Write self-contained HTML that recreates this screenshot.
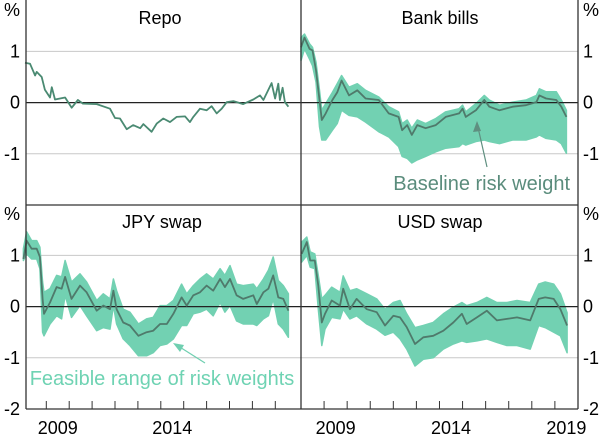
<!DOCTYPE html>
<html><head><meta charset="utf-8"><style>
body{margin:0;background:#fff}
svg text{font-family:"Liberation Sans",sans-serif;fill:#000}
</style></head><body>
<svg id="c" width="600" height="438" xmlns="http://www.w3.org/2000/svg"></svg>
<script>
const yearTicks=[2009,2010,2011,2012,2013,2014,2015,2016,2017,2018,2019];
const yearLabelsLeft=[2009,2014];
const yearLabelsRight=[2009,2014,2019];
const yTickValues=[1,0,-1,-2];
const yTickLabels=["1","0","-1","-2"];

const repoT=[2008.07,2008.29,2008.51,2008.58,2008.8,2008.94,2009.16,2009.24,2009.38,2009.82,2010.11,2010.38,2010.6,2011.2,2011.78,2012.0,2012.22,2012.51,2012.79,2013.1,2013.24,2013.6,2013.82,2014.11,2014.4,2014.69,2015.06,2015.27,2015.42,2015.71,2016.0,2016.22,2016.44,2016.66,2016.88,2017.17,2017.6,2018.04,2018.33,2018.48,2018.84,2018.99,2019.13,2019.2,2019.32,2019.42,2019.57];
const repoV=[0.78,0.76,0.53,0.6,0.5,0.25,0.1,0.3,0.06,0.1,-0.1,0.05,-0.02,-0.03,-0.12,-0.3,-0.31,-0.52,-0.44,-0.5,-0.42,-0.57,-0.41,-0.31,-0.38,-0.28,-0.27,-0.38,-0.28,-0.12,-0.15,-0.07,-0.21,-0.12,0.01,0.03,-0.03,0.06,0.14,0.05,0.38,0.08,0.37,0.05,0.29,0.01,-0.08];

const bankT=[2008.0,2008.15,2008.37,2008.5,2008.65,2008.8,2008.9,2009.07,2009.36,2009.57,2009.76,2010.08,2010.44,2010.8,2011.37,2011.8,2012.23,2012.38,2012.6,2012.8,2013.04,2013.4,2013.84,2014.27,2014.85,2015.0,2015.14,2015.58,2015.94,2016.16,2016.6,2017.17,2017.75,2018.2,2018.33,2018.62,2019.06,2019.28,2019.5];
const bankLine=[1.08,1.27,1.05,1.02,0.63,0.05,-0.34,-0.21,0.05,0.2,0.43,0.14,0.24,0.08,0.05,-0.21,-0.28,-0.54,-0.44,-0.63,-0.44,-0.5,-0.44,-0.28,-0.21,-0.12,-0.28,-0.15,0.05,-0.08,-0.15,-0.08,-0.05,0.01,0.14,0.08,0.05,-0.08,-0.28];
const bankUpper=[1.27,1.34,1.15,1.08,0.79,0.24,-0.15,-0.02,0.2,0.37,0.53,0.3,0.37,0.24,0.11,-0.08,-0.18,-0.41,-0.34,-0.5,-0.34,-0.41,-0.31,-0.18,-0.12,-0.05,-0.18,-0.02,0.14,0.05,-0.05,0.01,0.05,0.14,0.27,0.21,0.21,0.05,-0.15];
const bankLower=[0.82,1.05,0.85,0.72,0.4,-0.47,-0.73,-0.73,-0.54,-0.41,-0.15,-0.25,-0.28,-0.38,-0.57,-0.67,-0.86,-1.05,-1.09,-1.18,-1.12,-1.05,-0.96,-0.89,-0.86,-0.8,-0.83,-0.76,-0.73,-0.76,-0.8,-0.73,-0.73,-0.67,-0.63,-0.7,-0.73,-0.8,-0.99];

const jpyT=[2008.0,2008.14,2008.36,2008.58,2008.72,2008.84,2008.9,2009.16,2009.45,2009.67,2009.82,2010.1,2010.47,2010.76,2011.2,2011.49,2011.78,2011.93,2012.07,2012.36,2012.65,2013.02,2013.38,2013.67,2013.97,2014.26,2014.55,2014.91,2015.13,2015.42,2015.71,2016.0,2016.29,2016.59,2016.8,2017.02,2017.31,2017.6,2018.04,2018.19,2018.48,2018.7,2018.91,2019.13,2019.35,2019.57];
const jpyLine=[0.93,1.29,1.13,1.13,0.97,0.15,-0.14,0.08,0.38,0.35,0.58,0.15,0.41,0.28,-0.08,0.02,-0.05,0.31,-0.05,-0.31,-0.37,-0.57,-0.5,-0.47,-0.34,-0.34,-0.14,0.18,0.02,0.22,0.28,0.41,0.31,0.54,0.38,0.54,0.22,0.15,0.22,0.05,0.28,0.35,0.61,0.18,0.15,-0.08];
const jpyUpper=[1.13,1.46,1.29,1.29,1.16,0.48,0.28,0.35,0.61,0.58,0.9,0.48,0.64,0.48,0.12,0.25,0.15,0.54,0.31,-0.05,-0.11,-0.34,-0.24,-0.21,0.02,0.02,0.12,0.44,0.25,0.41,0.54,0.64,0.54,0.74,0.61,0.8,0.44,0.41,0.44,0.35,0.54,0.71,0.97,0.51,0.41,0.25];
const jpyLower=[0.9,1.03,0.93,0.93,0.74,-0.5,-0.57,-0.34,-0.18,-0.24,0.22,-0.21,0.02,-0.18,-0.47,-0.41,-0.44,0.02,-0.34,-0.63,-0.76,-0.96,-0.96,-0.9,-0.76,-0.73,-0.63,-0.37,-0.37,-0.14,-0.11,-0.05,-0.18,0.08,-0.11,0.02,-0.28,-0.34,-0.34,-0.37,-0.24,-0.18,0.15,-0.34,-0.44,-0.6];

const usdT=[2008.03,2008.25,2008.4,2008.6,2008.75,2008.9,2009.04,2009.33,2009.69,2009.83,2010.12,2010.41,2010.85,2011.28,2011.64,2012.0,2012.29,2012.58,2012.94,2013.3,2013.73,2014.17,2014.6,2014.97,2015.18,2015.62,2016.05,2016.49,2016.92,2017.36,2017.93,2018.3,2018.58,2018.95,2019.24,2019.53];
const usdLine=[1.03,1.26,0.9,0.9,0.41,-0.31,-0.14,0.12,0.02,0.35,-0.05,0.15,-0.05,-0.11,-0.37,-0.18,-0.21,-0.4,-0.73,-0.6,-0.57,-0.47,-0.31,-0.14,-0.34,-0.21,-0.08,-0.27,-0.24,-0.21,-0.27,0.15,0.18,0.15,-0.05,-0.37];
const usdUpper=[1.26,1.36,1.07,1.03,0.61,0.15,0.22,0.38,0.28,0.6,0.31,0.35,0.25,0.15,-0.05,0.08,0.12,-0.14,-0.41,-0.37,-0.31,-0.14,-0.01,0.08,0.02,0.08,0.18,0.08,0.08,0.12,0.08,0.44,0.48,0.44,0.25,-0.12];
const usdLower=[0.87,1.0,0.77,0.74,-0.05,-0.76,-0.44,-0.21,-0.24,-0.05,-0.24,-0.18,-0.34,-0.44,-0.56,-0.5,-0.63,-0.83,-1.16,-1.03,-1.0,-0.83,-0.73,-0.67,-0.7,-0.67,-0.63,-0.7,-0.76,-0.76,-0.83,-0.37,-0.41,-0.5,-0.57,-0.9];

const NS="http://www.w3.org/2000/svg";
const svg=document.getElementById('c');
function mk(tag,attrs,parent){const e=document.createElementNS(NS,tag);for(const k in attrs)e.setAttribute(k,attrs[k]);(parent||svg).appendChild(e);return e;}

const panels=[
 {x0:23.4,pxPerYr:22.9,x1:301,top:0,title:"Repo",tx:160,line:repoV,t:repoT,lineColor:"#4a8a72",name:"repo"},
 {x0:301,pxPerYr:23.08,x1:578,top:0,title:"Bank bills",tx:440,line:bankLine,up:bankUpper,lo:bankLower,t:bankT,lineColor:"#4f7a6b",name:"bank-bills"},
 {x0:23.4,pxPerYr:22.9,x1:301,top:204,title:"JPY swap",tx:162,line:jpyLine,up:jpyUpper,lo:jpyLower,t:jpyT,lineColor:"#4f7a6b",name:"jpy-swap"},
 {x0:301,pxPerYr:23.08,x1:578,top:204,title:"USD swap",tx:440,line:usdLine,up:usdUpper,lo:usdLower,t:usdT,lineColor:"#4f7a6b",name:"usd-swap"}
];
const unit=51.2;
panels.forEach(p=>{
  const xs=t=>p.x0+(t-2008)*p.pxPerYr;
  const ys=v=>p.top+102.6-v*unit;
  const g=mk('g',{});
  
  
  [1,-1].forEach(v=>{const l=mk('line',{x1:p.x1===301?26:301,x2:p.x1,y1:ys(v),y2:ys(v),stroke:'#c8c8c8','stroke-width':1},g);
    });
  if(p.up){
    let d='M'+p.t.map((t,i)=>xs(t).toFixed(1)+','+ys(p.up[i]).toFixed(1)).join('L');
    for(let i=p.t.length-1;i>=0;i--)d+='L'+xs(p.t[i]).toFixed(1)+','+ys(p.lo[i]).toFixed(1);
    const a=mk('path',{d:d+'Z',fill:'#72d1b2',stroke:'#72d1b2','stroke-width':1.5,'stroke-linejoin':'round'},g);
    
    
  }
  const z=mk('line',{x1:p.x1===301?26:301,x2:p.x1,y1:ys(0),y2:ys(0),stroke:'#222','stroke-width':1.3},g);
  
  const ln=mk('polyline',{points:p.t.map((t,i)=>xs(t).toFixed(1)+','+ys(p.line[i]).toFixed(1)).join(' '),fill:'none',stroke:p.lineColor,'stroke-width':1.8,'stroke-linejoin':'round'},g);
  
  
  const tt=mk('text',{x:p.tx,y:p.top+24,'font-size':18,'text-anchor':'middle'},g);tt.textContent=p.title;
  
  if(p.top===204){
    yearTicks.forEach(y=>{const tk=mk('line',{x1:xs(y),x2:xs(y),y1:409,y2:401,stroke:'#333','stroke-width':1},g);
      });
    (p.x0<100?yearLabelsLeft:yearLabelsRight).forEach(y=>{const tl=mk('text',{x:xs(y+0.5),y:434,'font-size':18,'text-anchor':'middle'},g);tl.textContent=y;
      });
  }
});
[[0,true],[204,false]].forEach(([top,isTop])=>{
  const lbl=[["%",top+16]];
  yTickValues.forEach((v,i)=>{if(isTop&&v===-2)return;lbl.push([yTickLabels[i],top+102.6-v*unit+6]);});
  lbl.forEach(([s,y])=>{
    const a=mk('text',{x:20,y:y,'font-size':18,'text-anchor':'end'});a.textContent=s;
    
    const b=mk('text',{x:583,y:y,'font-size':18,'text-anchor':'start'});b.textContent=s;
    
  });
});
[[26,0,26,409],[301,0,301,409],[578,0,578,409],[26,205,578,205],[26,409,578,409]].forEach(c=>{
  const l=mk('line',{x1:c[0],y1:c[1],x2:c[2],y2:c[3],stroke:'#333','stroke-width':1.3});
  });
const a1=mk('line',{x1:487,y1:167,x2:477,y2:123,stroke:'#5f8f80','stroke-width':1.2});

const h1=mk('path',{d:'M477,121 L473,132 L481,131 Z',fill:'#5f8f80'});

const t1=mk('text',{x:570,y:190,'font-size':20,'text-anchor':'end',style:'fill:#5a8c7c'});t1.textContent='Baseline risk weight';

const a2=mk('line',{x1:205,y1:363,x2:175,y2:344,stroke:'#6fcfb0','stroke-width':1.2});

const h2=mk('path',{d:'M173,343 L180,352 L184,345 Z',fill:'#6fcfb0'});

const t2=mk('text',{x:162,y:385,'font-size':20,'text-anchor':'middle',style:'fill:#6fd3b3'});t2.textContent='Feasible range of risk weights';

</script>
</body></html>
